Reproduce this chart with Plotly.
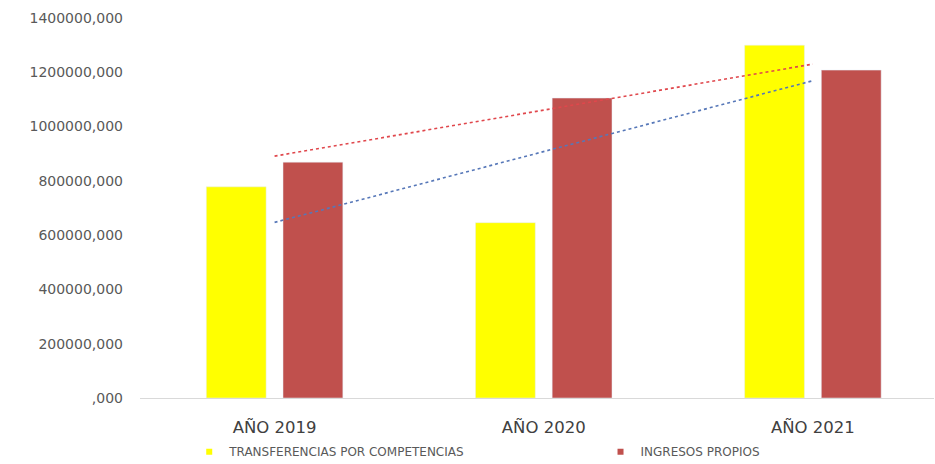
import numpy as np
import plotly.graph_objects as go

categories = ["AÑO 2019", "AÑO 2020", "AÑO 2021"]
transferencias = [778000, 646000, 1300000]
ingresos = [869000, 1105000, 1208000]
series_names = ["TRANSFERENCIAS POR COMPETENCIAS", "INGRESOS PROPIOS"]
tick_vals = [0, 200000, 400000, 600000, 800000, 1000000, 1200000, 1400000]
tick_text = [",000", "200000,000", "400000,000", "600000,000", "800000,000",
             "1000000,000", "1200000,000", "1400000,000"]

YELLOW = "#FFFF00"
RED = "#C0504D"
FONT = "DejaVu Sans"

idx = np.arange(len(categories))
trend_t = np.polyval(np.polyfit(idx, transferencias, 1), idx)
trend_i = np.polyval(np.polyfit(idx, ingresos, 1), idx)

fig = go.Figure()
fig.add_trace(go.Bar(x=categories, y=transferencias, name=series_names[0],
                     marker_color=YELLOW, showlegend=False, legendgroup="t"))
fig.add_trace(go.Bar(x=categories, y=ingresos, name=series_names[1],
                     marker_color=RED, showlegend=False, legendgroup="i"))
fig.add_trace(go.Scatter(x=categories, y=trend_t, mode="lines",
                         line=dict(color="#5677B8", width=1.6, dash="dot"),
                         showlegend=False, hoverinfo="skip"))
fig.add_trace(go.Scatter(x=categories, y=trend_i, mode="lines",
                         line=dict(color="#E0474C", width=1.6, dash="dot"),
                         showlegend=False, hoverinfo="skip"))
# legend entries
fig.add_trace(go.Scatter(x=[None], y=[None], mode="markers", name=series_names[0],
                         marker=dict(symbol="square", size=6, color=YELLOW),
                         legendgroup="t", legend="legend"))
fig.add_trace(go.Scatter(x=[None], y=[None], mode="markers", name=series_names[1],
                         marker=dict(symbol="square", size=6, color=RED),
                         legendgroup="i", legend="legend2"))

leg_common = dict(orientation="h", xanchor="left", y=-0.103, yanchor="top",
                  font=dict(size=12, color="#595959"), itemwidth=30,
                  bgcolor="rgba(0,0,0,0)")
fig.update_layout(
    width=935, height=464,
    margin=dict(l=140, r=1, t=18, b=66, autoexpand=False),
    paper_bgcolor="white", plot_bgcolor="white",
    barmode="group", bargap=0.43, bargroupgap=0.22,
    font=dict(family=FONT, color="#595959"),
    legend=dict(x=0.062, **leg_common),
    legend2=dict(x=0.58, **leg_common),
)
fig.update_xaxes(type="category", range=[-0.5, 2.45], showline=True,
                 linecolor="#D9D9D9", linewidth=1, ticks="", showgrid=False,
                 ticklabelstandoff=14, automargin=False,
                 tickfont=dict(size=16.5, color="#404040"), fixedrange=True)
fig.update_yaxes(range=[0, 1400000], tickvals=tick_vals, ticktext=tick_text,
                 showgrid=False, zeroline=False, showline=False, ticks="",
                 ticklabelstandoff=16, automargin=False,
                 tickfont=dict(size=14, color="#595959"))

fig.write_html("out.html")
